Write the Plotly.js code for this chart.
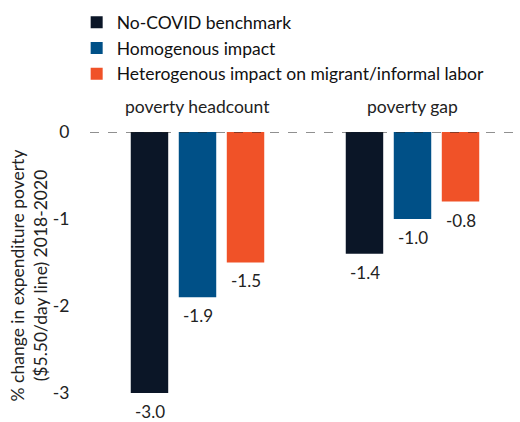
<!DOCTYPE html>
<html><head><meta charset="utf-8">
<script src="https://cdn.plot.ly/plotly-3.0.1.min.js"></script>
<style>html,body{margin:0;padding:0;background:#fff}</style>
</head><body><div id="chart" style="width:520px;height:422px"></div>
<script>
const categories = ["poverty headcount", "poverty gap"];
const seriesNames = ["No-COVID benchmark", "Homogenous impact", "Heterogenous impact on migrant/informal labor"];
const noCovid = [-3.0, -1.4];
const homogenous = [-1.9, -1.0];
const heterogenous = [-1.5, -0.8];
const yTicks = [0, -1, -2, -3];
const colors = ["#0b1627", "#005087", "#f05228"];

const FONT = "Lato, 'Open Sans', sans-serif";
const values = [noCovid, homogenous, heterogenous];
const data = values.map((v, i) => ({
  type: "bar",
  x: categories,
  y: v,
  name: seriesNames[i],
  marker: {color: colors[i]},
  hoverinfo: "skip"
}));

// value labels below each bar
const slotPx = 48;
const labelAnns = [];
values.forEach((v, i) => {
  v.forEach((val, j) => {
    labelAnns.push({x: categories[j], xref: "x", y: val, yref: "y", xshift: (i - 1) * slotPx, yshift: -7,
      yanchor: "top", text: val.toFixed(1), showarrow: false, borderpad: 0,
      font: {family: FONT, size: 17, color: "#222"}});
  });
});

const layout = {
  width: 520, height: 422,
  margin: {l: 90, r: 0, t: 132, b: 3},
  paper_bgcolor: "#fff", plot_bgcolor: "#fff",
  barmode: "group", bargap: 0.33, bargroupgap: 0.22,
  font: {family: FONT, size: 17, color: "#222"},
  showlegend: true,
  legend: {x: -0.031, y: 1.445, xanchor: "left", yanchor: "top", orientation: "v",
           font: {family: FONT, size: 17.5, color: "#111"}, tracegroupgap: 0,
           bgcolor: "rgba(0,0,0,0)"},
  xaxis: {range: [-0.5, 1.5], showticklabels: false, showgrid: false, zeroline: false, showline: false, fixedrange: true},
  yaxis: {range: [-3.3, 0], tickvals: yTicks, ticktext: yTicks.map(String), showgrid: false, zeroline: false,
          showline: false, ticks: "outside", ticklen: 16, tickcolor: "rgba(0,0,0,0)",
          tickfont: {family: FONT, size: 17.5, color: "#222"},
          title: {text: "% change in expenditure poverty<br>($5.50/day line) 2018-2020", font: {family: FONT, size: 17.5, color: "#222"}, standoff: 0}},
  shapes: [{type: "line", xref: "paper", x0: 0, x1: 1, yref: "y", y0: 0, y1: 0,
            line: {color: "#222", width: 1, dash: "dash"}, layer: "above"}],
  annotations: categories.map(c => ({x: c, xref: "x", y: 1, yref: "paper", yanchor: "bottom",
            yshift: 13, text: c, showarrow: false, font: {family: FONT, size: 17.5, color: "#222"}})).concat(labelAnns)
};
Plotly.newPlot("chart", data, layout, {displayModeBar: false, staticPlot: true});
</script></body></html>
